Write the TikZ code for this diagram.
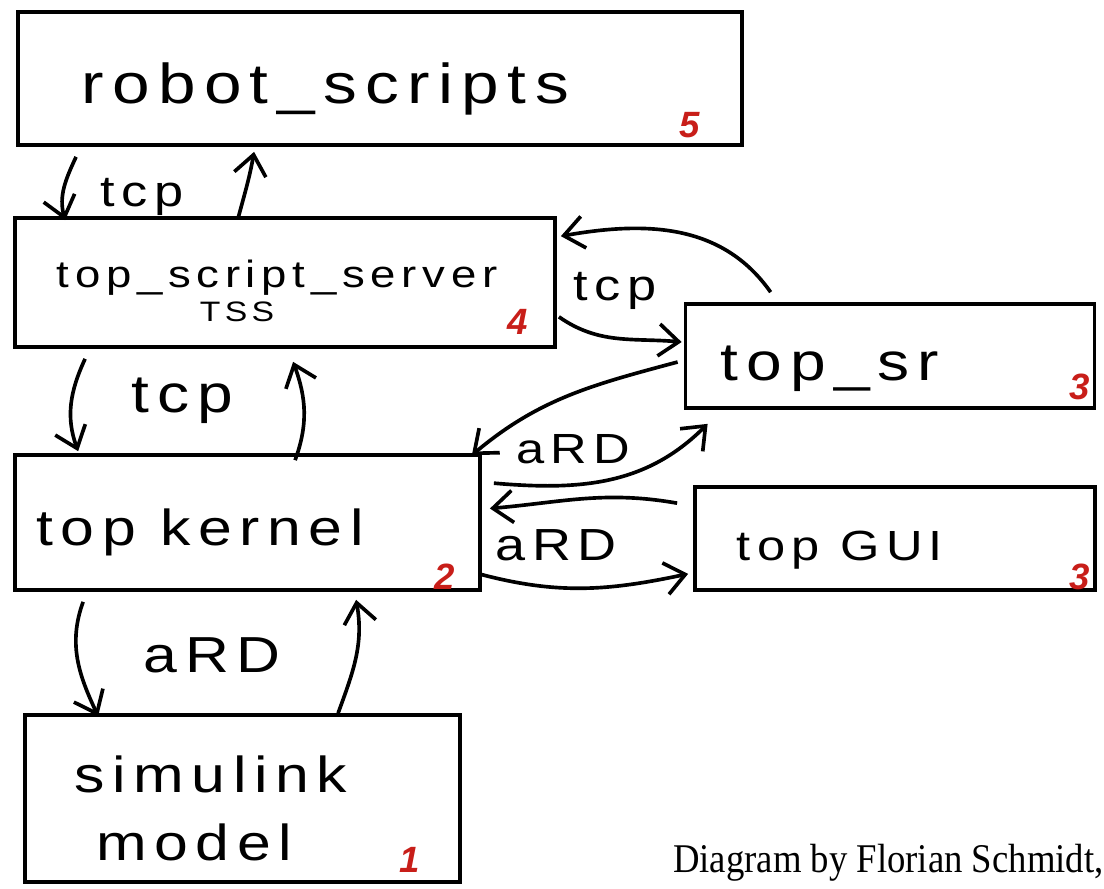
\documentclass[tikz,border=0pt]{standalone}
\usepackage{fontspec}
\usepackage{xcolor}
\newfontfamily\handfont[FakeStretch=1.2,LetterSpace=15]{Liberation Sans}
\newfontfamily\numfont{Liberation Sans}
\newfontfamily\creditfont[FakeStretch=0.9]{Liberation Serif}
\definecolor{numred}{RGB}{200,30,25}
\usetikzlibrary{arrows.meta,calc}

\begin{document}
\begin{tikzpicture}[
    x=0.025cm, y=-0.025cm,
    box/.style={draw, line width=2.6pt, inner sep=0pt},
    hand/.style={font=\handfont\fontsize{#1}{#1}\selectfont, inner sep=0pt, anchor=base},
    num/.style={font=\numfont\bfseries\itshape\fontsize{26}{26}\selectfont, text=numred, inner sep=0pt},
    arrow/.style={-{Straight Barb[length=5mm,width=8mm]}, line width=2.6pt}
  ]
  \useasboundingbox[fill=white] (0,0) rectangle (1104,888);

  % boxes
  \node[box, minimum width=18.1cm, minimum height=3.325cm] (rs) at (380,78.5) {};
  \node[box, minimum width=13.5cm, minimum height=3.225cm] (tss) at (285,282.5) {};
  \node[box, minimum width=10.225cm, minimum height=2.6cm] (sr) at (890,356) {};
  \node[box, minimum width=10.0cm, minimum height=2.575cm] (gui) at (895,538.5) {};
  \node[box, minimum width=11.625cm, minimum height=3.375cm] (kern) at (247.5,522.5) {};
  \node[box, minimum width=10.875cm, minimum height=4.175cm] (sim) at (242.5,798.5) {};

  % box texts
  \node[hand=40] (rsT) at (325,103) {robot\_scripts};
  \node[hand=27] (tssT) at (277,287) {top\_script\_server};
  \node[hand=20] (tssS) at (237,321) {TSS};
  \node[hand=38] (srT) at (830,380) {top\_sr};
  \node[hand=30] (guiT) at (840,560) {top GUI};
  \node[hand=36] (kernT) at (200,545) {top kernel};
  \node[hand=36] (simT) at (211,792) {simulink};
  \node[hand=36] (simM) at (194,860) {model};

  % numbers
  \node[num] (n5) at (690,125) {5};
  \node[num] (n4) at (518,322) {4};
  \node[num] (n3a) at (1080,387) {3};
  \node[num] (n3b) at (1080,577) {3};
  \node[num] (n2) at (445,577) {2};
  \node[num] (n1) at (410,860) {1};

  % connectors
  \draw[arrow] ($(rs.south west)+(60,10)$) to[out=-115,in=105] ($(tss.north west)+(52,4)$);
  \draw[arrow] ($(tss.north west)+(225,2)$) to[out=75,in=-100] ($(rs.south west)+(238,5)$);
  \node[hand=31] (tcpA) at (142,206) {tcp};

  \draw[arrow] ($(sr.north west)+(87,-10)$) to[out=125,in=10] ($(tss.north east)+(4,20)$);
  \draw[arrow] ($(tss.south east)+(2,-32)$) to[out=-35,in=175] ($(sr.west)+(-2,-14)$);
  \node[hand=31] (tcpB) at (615,300) {tcp};

  \draw[arrow] ($(tss.south west)+(72,10)$) to[out=-115,in=110] ($(kern.north west)+(65,-2)$);
  \draw[arrow] ($(kern.north west)+(282,7)$) to[out=70,in=-70] ($(tss.south west)+(280,13)$);
  \node[hand=38] (tcpC) at (182,412) {tcp};

  \draw[arrow] ($(sr.west)+(-6,6)$) to[out=195,in=40] ($(kern.north east)+(-10,2)$);
  \draw[arrow] ($(kern.north east)+(12,30)$) to[out=-5,in=225] ($(sr.south west)+(24,14)$);
  \node[hand=30] (ardA) at (573,463) {aRD};

  \draw[arrow] ($(gui.north west)+(-16,18)$) to[out=170,in=5] ($(kern.east)+(8,-14)$);
  \draw[arrow] ($(kern.south east)+(-3,-18)$) to[out=-15,in=192] ($(gui.south west)+(-5,-18)$);
  \node[hand=32] (ardB) at (556,560) {aRD};

  \draw[arrow] ($(kern.south west)+(70,10)$) to[out=-110,in=115] ($(sim.north west)+(75,3)$);
  \draw[arrow] ($(sim.north west)+(315,0)$) to[out=70,in=-80] ($(kern.south west)+(343,8)$);
  \node[hand=36] (ardC) at (212,672) {aRD};

  \node[font=\creditfont\fontsize{29}{29}\selectfont, anchor=base west, inner sep=0pt] (credit) at (673,872) {Diagram by Florian Schmidt,};
\end{tikzpicture}
\end{document}
